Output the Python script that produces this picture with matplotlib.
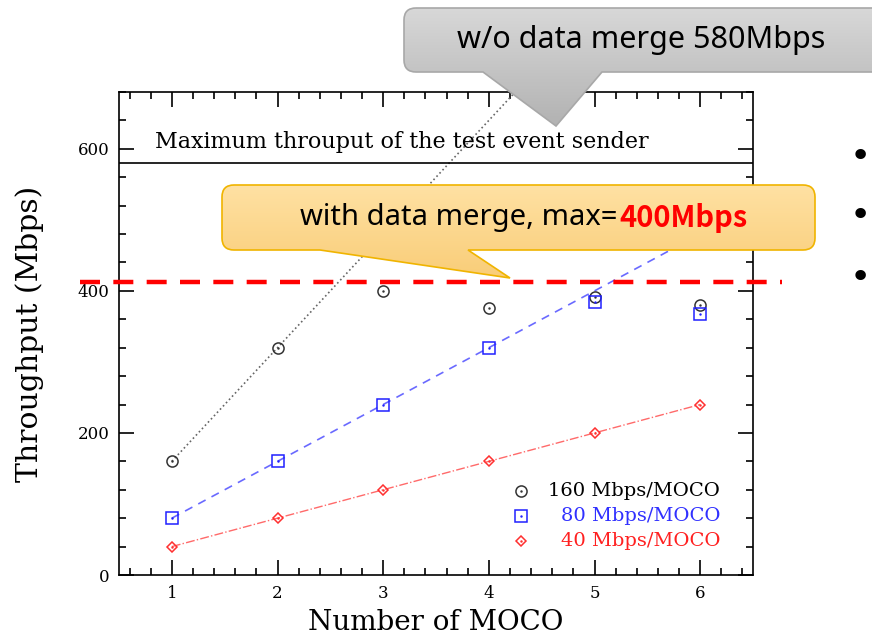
import numpy as np
import matplotlib
matplotlib.use("Agg")
import matplotlib.pyplot as plt
from matplotlib.path import Path
from matplotlib.patches import PathPatch
from matplotlib.colors import LinearSegmentedColormap
from matplotlib import transforms

# data
n_moco = [1, 2, 3, 4, 5, 6]
meas_160 = [160, 320, 400, 376, 392, 380]
meas_80 = [80, 160, 240, 320, 384, 368]
meas_40 = [40, 80, 120, 160, 200, 240]
ideal_160 = [160, 320, 480, 640, 800, 960]
ideal_80 = [80, 160, 240, 320, 400, 480]
ideal_40 = [40, 80, 120, 160, 200, 240]
sender_max = 580
merge_max = 412
legend_labels = ["160 Mbps/MOCO", "80 Mbps/MOCO", "40 Mbps/MOCO"]

W, H = 872, 636
serif = "DejaVu Serif"
jp = ["Noto Sans", "DejaVu Sans"]

fig = plt.figure(figsize=(W / 100, H / 100), dpi=100)
ax = fig.add_axes([119 / W, 1 - 575 / H, (753 - 119) / W, (575 - 92) / H])

# fit lines
ax.plot(n_moco, ideal_160, ls=":", color="#666666", lw=1.2)
ax.plot(n_moco, ideal_80, ls="--", color="#6a6aff", lw=1.2, dashes=(5, 4))
ax.plot(n_moco, ideal_40, ls="-.", color="#ff6a6a", lw=1.0)

# measured points (open marker + centre dot)
sets = [(meas_160, "o", "#333333", 8), (meas_80, "s", "#2020ff", 8), (meas_40, "D", "#ff3030", 5.5)]
for vals, m, c, ms in sets:
    ax.plot(n_moco, vals, m, ms=ms, mfc="none", mec=c, mew=1.1)
    ax.plot(n_moco, vals, ".", ms=1.5, color=c)

ax.axhline(sender_max, color="black", lw=1.2)
ax.text(0.84, 610, "Maximum throuput of the test event sender", fontsize=16,
        family=serif, va="center", ha="left")

ax.set_xlim(0.5, 6.5)
ax.set_ylim(0, 680)
ax.set_xticks(n_moco)
ax.set_xticks(np.arange(0.6, 6.5, 0.2), minor=True)
ax.set_yticks([0, 200, 400, 600])
ax.set_yticks(np.arange(0, 681, 40), minor=True)
ax.tick_params(which="both", direction="in", top=True, right=True, width=1.2)
ax.tick_params(which="major", length=11, labelsize=12, pad=7)
ax.tick_params(which="minor", length=5)
for lab in ax.get_xticklabels() + ax.get_yticklabels():
    lab.set_family(serif)
for s in ax.spines.values():
    s.set_linewidth(1.2)
ax.set_xlabel("Number of MOCO", fontsize=20, family=serif, labelpad=5)
ax.set_ylabel("Throughput (Mbps)", fontsize=21.5, family=serif, labelpad=24)

# legend, drawn by hand so the text is right aligned
leg_y = [0.174, 0.122, 0.070]
leg_col = ["black", "#3030ff", "#ff2020"]
for (vals, m, c, ms), y, lab, tc in zip(sets, leg_y, legend_labels, leg_col):
    ax.plot([0.634], [y], m, ms=ms, mfc="none", mec=c, mew=1.1, transform=ax.transAxes, clip_on=False)
    ax.plot([0.634], [y], ".", ms=1.5, color=c, transform=ax.transAxes, clip_on=False)
    ax.text(0.948, y, lab, color=tc, fontsize=14, family=serif, ha="right", va="center",
            transform=ax.transAxes)

# overlay in pixel coordinates for the slide callouts
ov = fig.add_axes([0, 0, 1, 1])
ov.axis("off")


def callout(x0, y0, x1, y1, p1, p2, tip, c_top, c_bot, ec, r=12):
    verts = [(x0 + r, y0), (x1 - r, y0), (x1, y0), (x1, y0 + r), (x1, y1 - r), (x1, y1),
             (x1 - r, y1), (p2, y1), tip, (p1, y1), (x0 + r, y1), (x0, y1), (x0, y1 - r),
             (x0, y0 + r), (x0, y0), (x0 + r, y0), (x0 + r, y0)]
    codes = [Path.MOVETO, Path.LINETO, Path.CURVE3, Path.CURVE3, Path.LINETO, Path.CURVE3,
             Path.CURVE3, Path.LINETO, Path.LINETO, Path.LINETO, Path.LINETO, Path.CURVE3,
             Path.CURVE3, Path.LINETO, Path.CURVE3, Path.CURVE3, Path.CLOSEPOLY]
    patch = PathPatch(Path(verts, codes), facecolor="none", edgecolor=ec, lw=1.2, zorder=3)
    ov.add_patch(patch)
    cmap = LinearSegmentedColormap.from_list("g", [c_top, c_bot])
    grad = np.linspace(0, 1, 256).reshape(-1, 1)
    im = ov.imshow(grad, cmap=cmap, extent=(x0, x1, tip[1], y0), aspect="auto", zorder=2)
    im.set_clip_path(patch)


callout(404, 8, 885, 72, 483, 602, (556, 126), "#d8d8d8", "#b2b2b2", "#a8a8a8")
callout(222, 185, 815, 250, 320, 468, (510, 278), "#ffe1a3", "#f9cd78", "#f0b400")

ov.text(641, 40, "w/o data merge 580Mbps", fontsize=22, family=jp, ha="center", va="center", zorder=4)
ov.text(617, 218, "with data merge, max=", fontsize=21, family=jp, ha="right", va="center", zorder=4)
ov.text(619, 218, "400Mbps", fontsize=21, family=["Noto Sans CJK JP", "DejaVu Sans"],
        weight="bold", color="#ff0000", ha="left", va="center", zorder=4)

# red limit line: x in pixels, y in data units
tr = transforms.blended_transform_factory(ov.transData, ax.transData)
ov.plot([80, 782], [merge_max, merge_max], color="#ff0000", lw=3.2, dashes=(4.5, 3),
        transform=tr, zorder=5)

for yb in [157, 216, 278]:
    ov.text(860, yb, "\u2022", fontsize=26, family="DejaVu Sans", ha="center", va="center")

ov.set_xlim(0, W)
ov.set_ylim(H, 0)

fig.savefig("out.png", dpi=100)
